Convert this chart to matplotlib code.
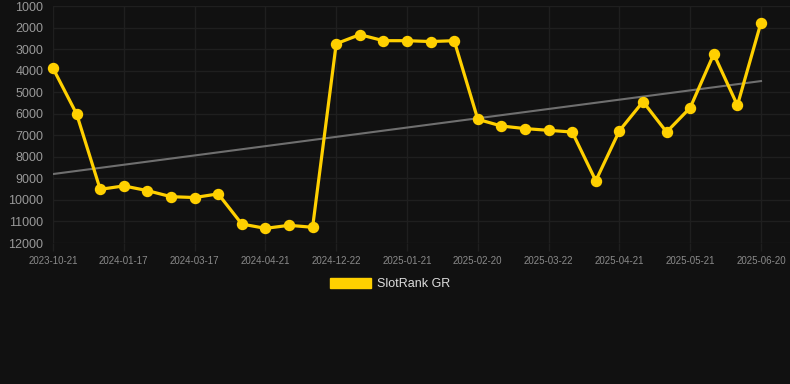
import numpy as np
import matplotlib
matplotlib.use("Agg")
import matplotlib.pyplot as plt
from matplotlib.patches import Patch

# Rank readings (one per snapshot), lower is better
ranks = [3890, 6010, 9510, 9350, 9570, 9850, 9890, 9720, 11120, 11320, 11180,
         11270, 2750, 2330, 2610, 2610, 2650, 2610, 6260, 6570, 6690, 6770,
         6850, 9110, 6790, 5440, 6850, 5720, 3230, 5610, 1770]

# Only every third snapshot gets a date label
tick_labels = ["2023-10-21", "2024-01-17", "2024-03-17", "2024-04-21",
               "2024-12-22", "2025-01-21", "2025-02-20", "2025-03-22",
               "2025-04-21", "2025-05-21", "2025-06-20"]
y_ticks = [1000, 2000, 3000, 4000, 5000, 6000, 7000, 8000, 9000, 10000, 11000, 12000]

series_name = "SlotRank GR"

BG = "#111111"
GRID = "#1f1f1f"
GOLD = "#FFD000"

plt.rcParams["font.family"] = ["Liberation Sans", "DejaVu Sans"]

fig = plt.figure(figsize=(7.9, 3.84), dpi=100, facecolor=BG)
ax = fig.add_axes([53 / 790, 1 - 243 / 384, 1 - 53 / 790, (243 - 6) / 384])
ax.set_facecolor(BG)

x = np.arange(len(ranks))

# trend line (least squares fit on the ranks)
slope, intercept = np.polyfit(x, ranks, 1)
ax.plot([x[0], x[-1]], [intercept, intercept + slope * x[-1]],
        color="#6f6f6f", linewidth=1.5, zorder=2)

ax.plot(x, ranks, color=GOLD, linewidth=2.3, marker="o", markersize=7.2,
        markerfacecolor=GOLD, markeredgecolor=GOLD, zorder=3, clip_on=False)

ax.set_xlim(0, 30 + 29 / 23.6)
ax.set_ylim(12000, 1000)

ax.set_xticks(np.arange(0, len(ranks), 3))
ax.set_xticklabels(tick_labels)
ax.set_yticks(y_ticks)
ax.set_yticklabels([str(v) for v in y_ticks])

ax.grid(True, color=GRID, linewidth=1)
ax.set_axisbelow(True)
for sp in ax.spines.values():
    sp.set_visible(False)

ax.tick_params(axis="x", colors=GRID, length=6, width=1, pad=3,
               labelsize=7, labelcolor="#8a8a8a")
ax.tick_params(axis="y", length=0, pad=7, labelsize=9, labelcolor="#999999")

handle = Patch(facecolor=GOLD, edgecolor=GOLD)
leg = fig.legend([handle], [series_name], loc="center",
                 bbox_to_anchor=(390 / 790, 1 - 284 / 384),
                 frameon=False, fontsize=9, handlelength=3.3, handleheight=0.9,
                 handletextpad=0.5)
for t in leg.get_texts():
    t.set_color("#dddddd")

fig.savefig("out.png", dpi=100, facecolor=BG)
